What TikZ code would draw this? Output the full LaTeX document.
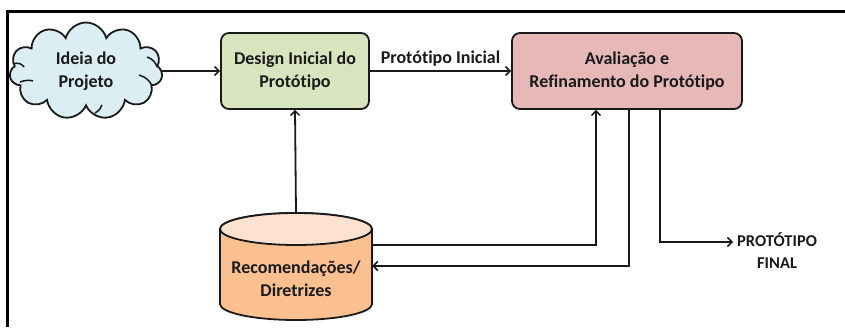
\documentclass[tikz,border=0pt]{standalone}
\usepackage{fontspec}
\setmainfont{Carlito}[Ligatures=NoCommon]
\usetikzlibrary{shapes.symbols,arrows.meta}
\definecolor{cloudblue}{HTML}{DBEEF4}
\definecolor{boxgreen}{HTML}{D7E4BD}
\definecolor{boxpink}{HTML}{E6B9B8}
\definecolor{cylbody}{HTML}{FAC090}
\definecolor{cyltop}{HTML}{FCE2CF}
\definecolor{edge}{HTML}{1A1A1A}
\tikzset{
  lbl/.style={font=\bfseries\fontsize{18}{23}\selectfont, align=center, text=edge},
  rbox/.style={lbl, draw=edge, line width=1.8pt, rounded corners=8pt, inner sep=0pt},
  arr/.style={draw=edge, line width=1.8pt, -{Straight Barb[length=4.5pt,width=9pt,line width=1.5pt]}},
  ln/.style={draw=edge, line width=1.5pt},
}
\begin{document}
\begin{tikzpicture}[x=1pt,y=-1pt]
\useasboundingbox (0,0) rectangle (845,327);
% frame
\draw[line width=3pt, line cap=rect] (7,11) -- (845,11);
\draw[line width=3pt] (7,11) -- (7,327);
% nodes
\node[lbl, cloud, cloud puffs=11, aspect=1.6, draw=edge, line width=1.8pt, fill=cloudblue,
      minimum width=153pt, minimum height=97pt, inner sep=0pt] (cloud) at (86,71) {Ideia do\\Projeto};
\draw[ln] (13,64) .. controls (18,62) and (22,64) .. (24,67);
\draw[ln] (20,82) .. controls (25,80) and (30,80) .. (33,81);
\draw[ln] (147,57) .. controls (153,59) and (156,63) .. (157,67);
\draw[ln] (139,75) .. controls (146,77) and (150,81) .. (152,86);
\draw[ln] (95,113) .. controls (99,111) and (101,108) .. (102,105);
\node[rbox, fill=boxgreen, minimum width=148pt, minimum height=76pt] (design) at (295,71) {Design Inicial do\\Protótipo};
\node[rbox, fill=boxpink, minimum width=230pt, minimum height=76pt] (aval) at (627,71) {Avaliação e\\Refinamento do Protótipo};
% cylinder
\node[minimum width=152pt, minimum height=107pt, inner sep=0pt] (cyl) at (296,266.5) {};
\filldraw[fill=cylbody, draw=edge, line width=1.8pt]
  (220,229) -- (220,304) arc[start angle=180, end angle=360, x radius=76pt, y radius=16pt]
  -- (372,229) arc[start angle=0, end angle=180, x radius=76pt, y radius=16pt] -- cycle;
\filldraw[fill=cyltop, draw=edge, line width=1.8pt] (296,229) ellipse[x radius=76pt, y radius=16pt];
\node[lbl] (cyltext) at (296,279) {Recomendações/\\Diretrizes};
\node[lbl, font=\bfseries\fontsize{16.5}{22}\selectfont, inner sep=0pt, anchor=west] (final) at (737,251) {PROTÓTIPO\\FINAL};
% connectors
\coordinate (p1) at (596,245);
\coordinate (p2) at (629,266);
\coordinate (p3) at (660,242);
\draw[arr] (cloud.east |- design) -- (design.west);
\draw[arr] (design.east) -- node[lbl, above=0pt] {Protótipo Inicial} (aval.west);
\draw[arr] (cyl.north) -- (design.south);
\draw[arr] (cyl.east |- p1) -| (aval.south -| p1);
\draw[arr] (aval.south -| p2) |- (cyl.east |- p2);
\draw[arr, shorten >=4pt] (aval.south -| p3) |- (final.west |- p3);
\end{tikzpicture}
\end{document}
